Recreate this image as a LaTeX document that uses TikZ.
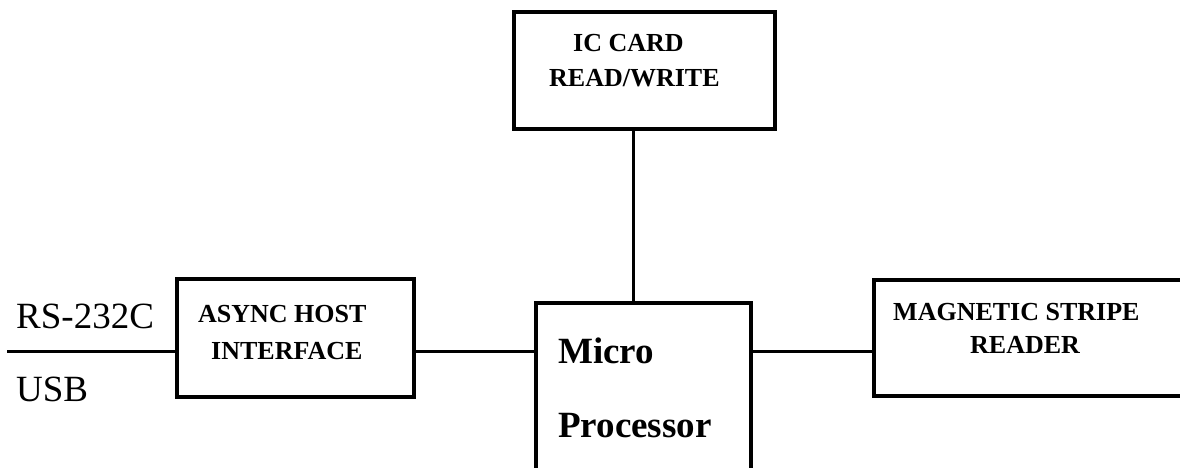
\documentclass[tikz,border=0pt]{standalone}
\usepackage{fontspec}
\setmainfont{Liberation Serif}
\begin{document}
\begin{tikzpicture}[x=1pt,y=-1pt,
  box/.style={draw,line width=4pt,inner sep=0pt,outer sep=0pt},
  conn/.style={line width=3pt},
  lbl/.style={anchor=base west,inner sep=0pt,font=\fontsize{26}{30}\selectfont\bfseries},
  biglbl/.style={anchor=base west,inner sep=0pt,font=\fontsize{37}{42}\selectfont\bfseries},
  iolbl/.style={anchor=base west,inner sep=0pt,font=\fontsize{37}{42}\selectfont}]
\useasboundingbox[fill=white] (0,0) rectangle (1180,468);
% boxes
\node[box,minimum width=261pt,minimum height=117pt] (ic) at (644.5,70.5) {};
\node[box,minimum width=237pt,minimum height=118pt] (async) at (295.5,338) {};
\node[box,minimum width=215pt,minimum height=187pt] (mp) at (643.5,396.5) {};
\node[box,minimum width=326pt,minimum height=116pt] (mag) at (1037,338) {};
% labels
\node[lbl] (t1) at (573,52) {IC CARD};
\node[lbl] (t2) at (549,87) {READ/WRITE};
\node[lbl] (t3) at (198,322) {ASYNC HOST};
\node[lbl] (t4) at (211,359) {INTERFACE};
\node[lbl] (t5) at (893,320) {MAGNETIC STRIPE};
\node[lbl] (t6) at (970,353) {READER};
\node[biglbl] (t7) at (558,363) {Micro};
\node[biglbl] (t8) at (558,437) {Processor};
\node[iolbl] (t9) at (16,328) {RS-232C};
\node[iolbl] (t10) at (16,401) {USB};
% connectors
\coordinate (vx) at (633,0);
\coordinate (hy) at (0,351);
\coordinate (lend) at (7,351);
\draw[conn] (lend) -- (hy -| async.west);
\draw[conn] (hy -| async.east) -- (hy -| mp.west);
\draw[conn] (hy -| mp.east) -- (hy -| mag.west);
\draw[conn] (vx |- ic.south) -- (vx |- mp.north);
\end{tikzpicture}
\end{document}
